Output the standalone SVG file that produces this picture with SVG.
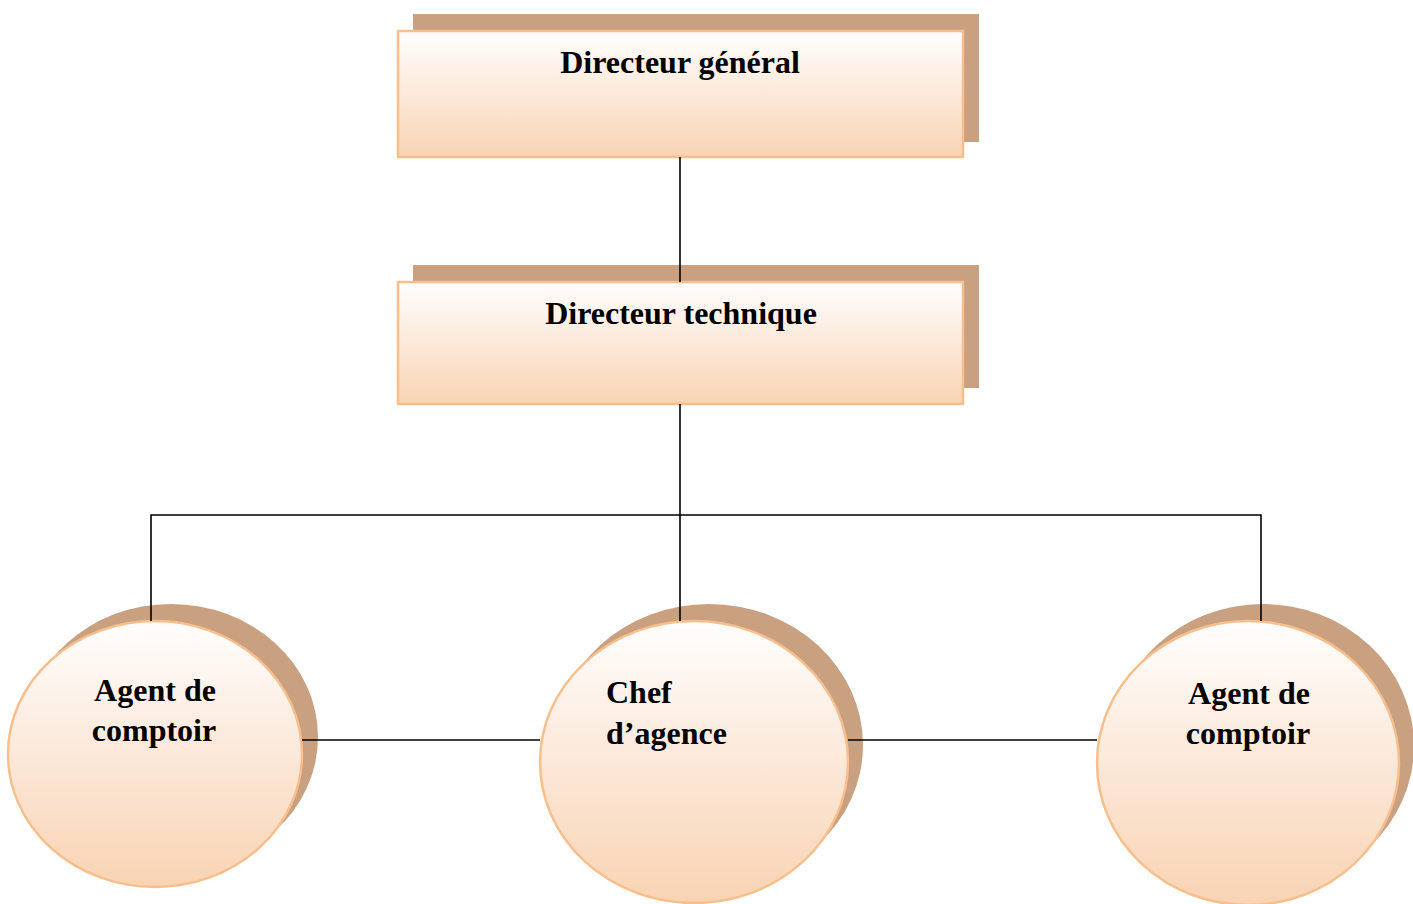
<svg xmlns="http://www.w3.org/2000/svg" width="1413" height="904" viewBox="0 0 1413 904">
  <defs>
    <linearGradient id="fill" x1="0" y1="0" x2="0" y2="1">
      <stop offset="0" stop-color="#fffefd"/>
      <stop offset="0.3" stop-color="#fdf1e8"/>
      <stop offset="1" stop-color="#f9d3b3"/>
    </linearGradient>
  </defs>
  <style>
    .shadow { fill: #c9a080; }
    .face { fill: url(#fill); stroke: #f8bf8d; stroke-width: 2.5; }
    .label { font-family: "Liberation Serif", "Times New Roman", serif; font-weight: bold; font-size: 32px; fill: #000; }
    .mid { text-anchor: middle; }
    .wire { stroke: #000; stroke-width: 1.6; fill: none; }
  </style>
  <rect width="1413" height="904" fill="#fff"/>

  <g id="directeur-general">
    <rect class="shadow" x="413" y="14" width="566" height="128"/>
    <rect class="face" x="398" y="31" width="565" height="126"/>
    <text class="label mid" x="680" y="73">Directeur général</text>
  </g>

  <g id="directeur-technique">
    <rect class="shadow" x="413" y="265" width="566" height="123"/>
    <rect class="face" x="398" y="282" width="565" height="122"/>
    <text class="label mid" x="681" y="324">Directeur technique</text>
  </g>

  <g id="agent-comptoir-gauche">
    <ellipse class="shadow" cx="171" cy="737" rx="147" ry="133"/>
    <ellipse class="face" cx="155" cy="754" rx="147" ry="133"/>
    <text class="label mid" x="155" y="701">Agent de</text>
    <text class="label mid" x="154" y="741">comptoir</text>
  </g>

  <g id="chef-agence">
    <ellipse class="shadow" cx="709" cy="745" rx="154" ry="141"/>
    <ellipse class="face" cx="694" cy="762" rx="154" ry="141"/>
    <text class="label" x="606" y="703">Chef</text>
    <text class="label" x="606" y="744">d’agence</text>
  </g>

  <g id="agent-comptoir-droite">
    <ellipse class="shadow" cx="1263" cy="746" rx="151" ry="142"/>
    <ellipse class="face" cx="1248" cy="763" rx="151" ry="142"/>
    <text class="label mid" x="1249" y="704">Agent de</text>
    <text class="label mid" x="1248" y="744">comptoir</text>
  </g>

  <g id="connectors">
    <line class="wire" x1="680" y1="157" x2="680" y2="282"/>
    <line class="wire" x1="680" y1="404" x2="680" y2="621"/>
    <polyline class="wire" points="151,621 151,515 1261,515 1261,621"/>
    <line class="wire" x1="302" y1="740" x2="540" y2="740"/>
    <line class="wire" x1="848" y1="740" x2="1097" y2="740"/>
  </g>
</svg>
